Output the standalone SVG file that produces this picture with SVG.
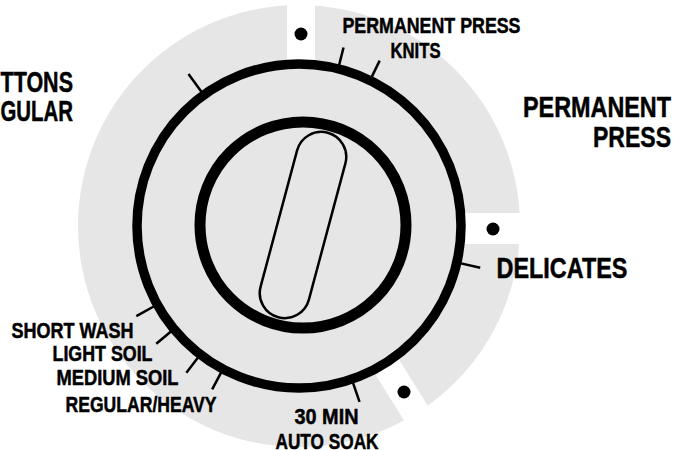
<svg xmlns="http://www.w3.org/2000/svg" width="674" height="450" viewBox="0 0 674 450">
  <style>
    .lbl { font-family: 'Liberation Sans', Arial, sans-serif; font-weight: bold; fill: #000; stroke: #000; stroke-width: 0.5; }
    .s { font-size: 22px; }
    .b { font-size: 30px; }
    .tick { stroke: #000; stroke-width: 2.5; stroke-linecap: butt; }
    .gap { fill: #fff; }
    .bg { fill: #e6e6e6; }
    .dot { fill: #000; }
  </style>
  <rect width="674" height="450" fill="#fff"/>
  <g id="dial-face">
    <circle class="bg" cx="299" cy="226" r="221"/>
    <rect class="gap" x="287" y="0" width="28" height="226"/>
    <rect class="gap" x="299" y="213" width="375" height="31"/>
    <rect class="gap" x="285" y="-10" width="28" height="236" transform="rotate(148 299 226)"/>
    <circle class="bg" cx="299" cy="226" r="164"/>
    <circle class="dot" cx="301" cy="34" r="6.5"/>
    <circle class="dot" cx="493" cy="229" r="6.5"/>
    <circle class="dot" cx="404" cy="392" r="6.5"/>
  </g>
  <g id="ticks">
    <line class="tick" x1="299" y1="60" x2="299" y2="38" transform="rotate(-36 299 226)"/>
    <line class="tick" x1="299" y1="62" x2="299" y2="42" transform="rotate(14 299 226)"/>
    <line class="tick" x1="299" y1="62" x2="299" y2="42" transform="rotate(26 299 226)"/>
    <line class="tick" x1="299" y1="62" x2="299" y2="40" transform="rotate(103 299 226)"/>
    <line class="tick" x1="299" y1="62" x2="299" y2="40" transform="rotate(161 299 226)"/>
    <line class="tick" x1="299" y1="62" x2="299" y2="41" transform="rotate(208 299 226)"/>
    <line class="tick" x1="299" y1="62" x2="299" y2="41" transform="rotate(217.5 299 226)"/>
    <line class="tick" x1="299" y1="62" x2="299" y2="41" transform="rotate(230.5 299 226)"/>
    <line class="tick" x1="299" y1="62" x2="299" y2="40" transform="rotate(241 299 226)"/>
  </g>
  <g id="outer-ring">
    <circle cx="299" cy="226" r="162" fill="none" stroke="#000" stroke-width="9.5"/>
  </g>
  <g id="knob">
    <circle cx="303" cy="225" r="103" fill="none" stroke="#000" stroke-width="11"/>
    <rect x="278" y="129.5" width="50" height="191" rx="25" ry="25" fill="none" stroke="#000" stroke-width="2.5" transform="rotate(15 303 225)"/>
  </g>
  <g id="labels">
    <text class="lbl b" x="0.5" y="91.5" textLength="72.5" lengthAdjust="spacingAndGlyphs">TTONS</text>
    <text class="lbl b" x="0.5" y="121" textLength="72.5" lengthAdjust="spacingAndGlyphs">GULAR</text>
    <text class="lbl s" x="342.5" y="33" textLength="178" lengthAdjust="spacingAndGlyphs">PERMANENT PRESS</text>
    <text class="lbl s" x="390.5" y="58" textLength="50" lengthAdjust="spacingAndGlyphs">KNITS</text>
    <text class="lbl b" x="523" y="116.5" textLength="148" lengthAdjust="spacingAndGlyphs">PERMANENT</text>
    <text class="lbl b" x="593" y="146.5" textLength="78" lengthAdjust="spacingAndGlyphs">PRESS</text>
    <text class="lbl b" x="496.5" y="278" textLength="131" lengthAdjust="spacingAndGlyphs">DELICATES</text>
    <text class="lbl s" x="11.5" y="338" textLength="122" lengthAdjust="spacingAndGlyphs">SHORT WASH</text>
    <text class="lbl s" x="52.5" y="360.5" textLength="100" lengthAdjust="spacingAndGlyphs">LIGHT SOIL</text>
    <text class="lbl s" x="56.5" y="385" textLength="122" lengthAdjust="spacingAndGlyphs">MEDIUM SOIL</text>
    <text class="lbl s" x="65.5" y="412" textLength="151" lengthAdjust="spacingAndGlyphs">REGULAR/HEAVY</text>
    <text class="lbl s" x="294.5" y="424" textLength="64" lengthAdjust="spacingAndGlyphs">30 MIN</text>
    <text class="lbl s" x="275.5" y="449" textLength="103" lengthAdjust="spacingAndGlyphs">AUTO SOAK</text>
  </g>
</svg>
